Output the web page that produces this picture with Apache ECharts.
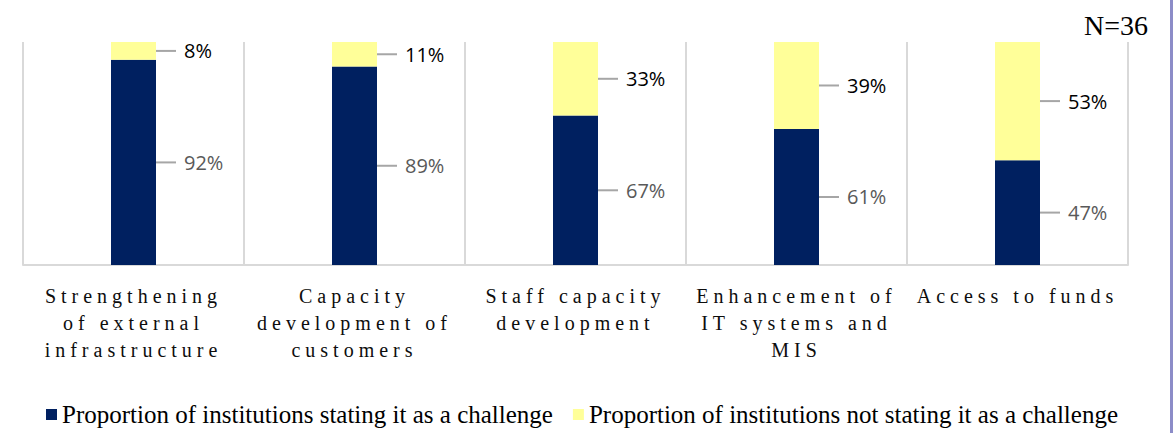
<!DOCTYPE html>
<html>
<head>
<meta charset="utf-8">
<script src="https://cdn.jsdelivr.net/npm/echarts@6/dist/echarts.min.js"></script>
<style>
  html, body { margin: 0; padding: 0; background: #fff; }
  #chart { width: 1173px; height: 433px; }
  /* axis labels in the original are letter-spaced */
  #chart text[fill="#0d0d0d"] { letter-spacing: 5px; }
</style>
</head>
<body>
<div id="chart"></div>
<script>
const categories = [
  'Strengthening\nof external\ninfrastructure',
  'Capacity\ndevelopment of\ncustomers',
  'Staff capacity\ndevelopment',
  'Enhancement of\nIT systems and\nMIS',
  'Access to funds'
];
const seriesNames = [
  'Proportion of institutions stating it as a challenge',
  'Proportion of institutions not stating it as a challenge'
];
const challenge = [92, 89, 67, 61, 47];
const notChallenge = [8, 11, 33, 39, 53];

const chart = echarts.init(document.getElementById('chart'), null, { renderer: 'svg' });

function barLabel(color) {
  return {
    show: true,
    position: 'right',
    distance: 0,
    formatter: '{c}%',
    color: color,
    fontFamily: 'Open Sans',
    fontSize: 20,
    padding: [0, 0, 0, 8],
    backgroundColor: 'rgba(255,255,255,0)'
  };
}

chart.setOption({
  animation: false,
  title: {
    text: 'N=36',
    right: 20,
    top: 6,
    textStyle: { fontFamily: 'Liberation Serif', fontWeight: 'normal', fontSize: 28, color: '#000' }
  },
  graphic: [{
    type: 'rect',
    right: 0,
    top: 0,
    shape: { width: 3, height: 433 },
    style: { fill: '#8c8cc8' }
  }],
  legend: {
    left: 41,
    top: 397,
    icon: 'rect',
    itemWidth: 11,
    itemHeight: 11,
    itemGap: 20,
    textStyle: { fontFamily: 'Liberation Serif', fontSize: 25, color: '#000' },
    data: seriesNames
  },
  grid: { left: 23, right: 45, top: 42, bottom: 168 },
  xAxis: {
    type: 'category',
    data: categories,
    axisTick: { show: false },
    axisLine: { lineStyle: { color: '#d9d9d9', width: 2 } },
    splitLine: { show: true, lineStyle: { color: '#d9d9d9', width: 2 } },
    axisLabel: {
      color: '#0d0d0d',
      fontFamily: 'Liberation Serif',
      fontSize: 20,
      lineHeight: 27,
      margin: 17,
      interval: 0
    }
  },
  yAxis: {
    type: 'value',
    min: 0,
    max: 100,
    show: false
  },
  series: [
    {
      name: seriesNames[0],
      type: 'bar',
      stack: 'total',
      barWidth: 45,
      data: challenge,
      itemStyle: { color: '#002060' },
      label: barLabel('#595959'),
      labelLayout: { dx: 20 },
      labelLine: { show: true, lineStyle: { color: '#a6a6a6', width: 2 } }
    },
    {
      name: seriesNames[1],
      type: 'bar',
      stack: 'total',
      barWidth: 45,
      data: notChallenge,
      itemStyle: { color: '#ffff99' },
      label: barLabel('#000'),
      labelLayout: { dx: 20 },
      labelLine: { show: true, lineStyle: { color: '#a6a6a6', width: 2 } }
    }
  ]
});
</script>
</body>
</html>
